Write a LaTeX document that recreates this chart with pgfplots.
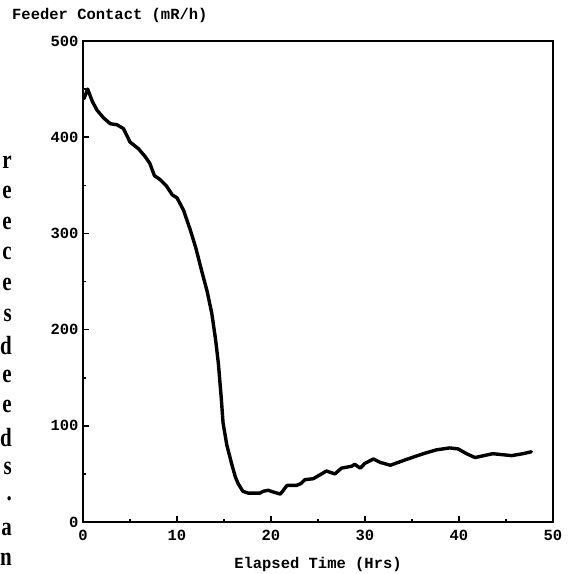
\documentclass[border=0pt]{standalone}
\usepackage{fontspec}
\setmainfont{Liberation Serif}
\setmonofont{Liberation Mono}
\usepackage{pgfplots}
\pgfplotsset{compat=1.18}

\pgfplotstableread{
t    mrh
0.1  440
0.5  450
1.0  437
1.5  428
2.2  420
2.9  414
3.6  413
4.3  409
4.7  401
5.0  395
5.9  388
6.6  380
7.1  373
7.6  360
8.2  356
8.9  349
9.5  340
10.0 337
10.7 324
11.4 304
12.0 285
12.6 262
13.2 240
13.7 217
14.1 190
14.4 165
14.7 130
14.9 103
15.3 80
15.8 61
16.2 47
16.5 40
17.0 32
17.6 30
18.2 30
18.8 30
19.2 32
19.7 33
20.3 31
21.0 29
21.7 38
22.7 38
23.2 40
23.6 44
24.5 45
25.2 49
25.9 53
26.8 50
27.5 56
28.6 58
28.9 60
29.5 56
30.0 61
30.9 65.5
31.6 62
32.7 59
34.4 65
36.2 71
37.6 75
39.0 77
39.9 76
40.8 71
41.7 67
43.6 71
45.6 69
46.8 71
47.7 73
}\feeder

\newcommand{\lbl}{\ttfamily\bfseries\fontsize{15.5}{16}\selectfont}

\begin{document}
\begin{tikzpicture}
\begin{axis}[
  scale only axis,
  width=470pt, height=481pt,
  xmin=0, xmax=50, ymin=0, ymax=500,
  xtick={0,10,...,50}, ytick={0,100,...,500},
  minor x tick num=1, minor y tick num=1,
  tick pos=left, tick align=inside,
  major tick length=6pt, minor tick length=3.5pt,
  axis line style={line width=2.4pt},
  every tick/.style={line width=1.6pt, black},
  /pgf/number format/assume math mode=true,
  tick label style={font=\lbl},
  xticklabel style={yshift=-5pt},
  yticklabel style={xshift=-1pt},
  xlabel={Elapsed Time (Hrs)},
  xlabel style={font=\lbl, yshift=-9pt},
]
\addplot[black, line width=3.4pt, line join=round, line cap=round] table[x=t, y=mrh] {\feeder};
\end{axis}
% title above the axis
\node[anchor=west, font=\lbl, inner sep=0pt] at (-71pt,507pt) {Feeder Contact (mR/h)};
% fragments of the page text on the left
\foreach \ch [count=\i from 0] in {r,e,e,c,e,s,d,e,e,d,s,.,a,n} {
  \pgfmathsetmacro{\yy}{522-162-30.6*\i}
  \node[anchor=east, inner sep=0pt, font=\bfseries\fontsize{21}{21}\selectfont]
    at (-71pt, \yy pt) {\scalebox{1}[1.25]{\ch}};
}
\pgfresetboundingbox
\path (-83pt,-52pt) rectangle (485pt,522pt);
\end{tikzpicture}
\end{document}
